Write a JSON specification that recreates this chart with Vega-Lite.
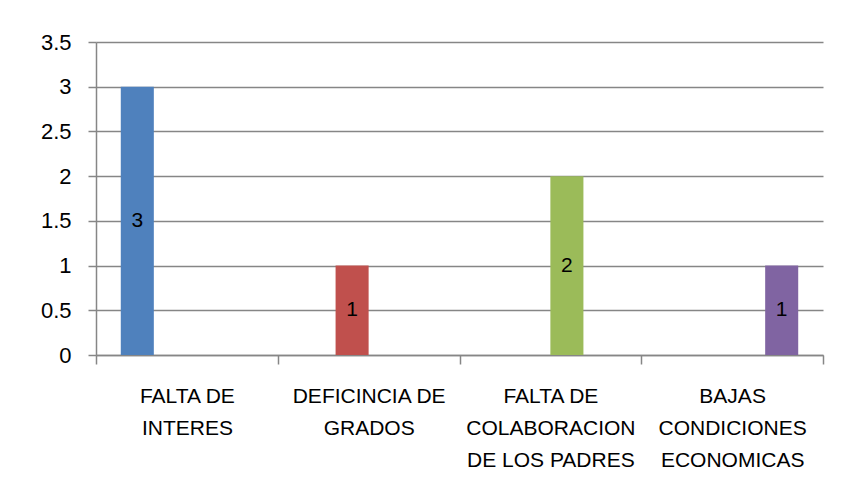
{
  "$schema": "https://vega.github.io/schema/vega-lite/v6.json",
  "width": 727,
  "height": 313,
  "autosize": {"type": "none"},
  "padding": {"left": 96, "top": 42, "right": 18, "bottom": 145},
  "background": "white",
  "config": {
    "view": {"stroke": null},
    "font": "Liberation Sans"
  },
  "data": {
    "values": [
      {"categoria": "FALTA DE INTERES", "serie": "Serie 1", "valor": 3},
      {"categoria": "DEFICINCIA DE GRADOS", "serie": "Serie 2", "valor": 1},
      {"categoria": "FALTA DE COLABORACION DE LOS PADRES", "serie": "Serie 3", "valor": 2},
      {"categoria": "BAJAS CONDICIONES ECONOMICAS", "serie": "Serie 4", "valor": 1}
    ]
  },
  "encoding": {
    "x": {
      "field": "categoria",
      "type": "nominal",
      "sort": null,
      "scale": {"paddingInner": 0, "paddingOuter": 0},
      "axis": {
        "title": null,
        "labelAngle": 0,
        "labelFont": "Liberation Sans",
        "labelFontSize": 21,
        "labelLineHeight": 32,
        "labelColor": "#000000",
        "labelPadding": 21,
        "labelBaseline": "top",
        "domainColor": "#868686",
        "domainWidth": 1.5,
        "tickColor": "#868686",
        "tickWidth": 1.5,
        "tickSize": 9,
        "tickBand": "extent",
        "labelExpr": "datum.value == 'FALTA DE INTERES' ? ['FALTA DE', 'INTERES'] : datum.value == 'DEFICINCIA DE GRADOS' ? ['DEFICINCIA DE', 'GRADOS'] : datum.value == 'FALTA DE COLABORACION DE LOS PADRES' ? ['FALTA DE', 'COLABORACION', 'DE LOS PADRES'] : datum.value == 'BAJAS CONDICIONES ECONOMICAS' ? ['BAJAS', 'CONDICIONES', 'ECONOMICAS'] : ''"
      }
    },
    "xOffset": {
      "field": "serie",
      "type": "nominal",
      "scale": {"domain": ["Serie 1", "Serie 2", "Serie 3", "Serie 4"], "paddingInner": 0, "paddingOuter": 0.75}
    }
  },
  "layer": [
    {
      "mark": {"type": "bar"},
      "encoding": {
        "y": {
          "field": "valor",
          "type": "quantitative",
          "scale": {"domain": [0, 3.5], "nice": false},
          "axis": {
            "title": null,
            "values": [0, 0.5, 1, 1.5, 2, 2.5, 3, 3.5],
            "format": "~g",
            "labelFont": "Liberation Sans",
            "labelFontSize": 22,
            "labelColor": "#000000",
            "labelPadding": 17,
            "tickSize": 8,
            "tickColor": "#868686",
            "tickWidth": 1.5,
            "domainColor": "#868686",
            "domainWidth": 1.5,
            "grid": true,
            "gridColor": "#868686",
            "gridWidth": 1.5
          }
        },
        "color": {
          "field": "serie",
          "type": "nominal",
          "scale": {"domain": ["Serie 1", "Serie 2", "Serie 3", "Serie 4"], "range": ["#4F81BD", "#C0504D", "#9BBB59", "#8064A2"]},
          "legend": null
        }
      }
    },
    {
      "transform": [{"calculate": "datum.valor / 2", "as": "medio"}],
      "mark": {"type": "text", "font": "Liberation Sans", "fontSize": 21, "color": "#000000", "baseline": "middle", "align": "center"},
      "encoding": {
        "y": {"field": "medio", "type": "quantitative"},
        "text": {"field": "valor", "type": "quantitative"}
      }
    }
  ]
}
